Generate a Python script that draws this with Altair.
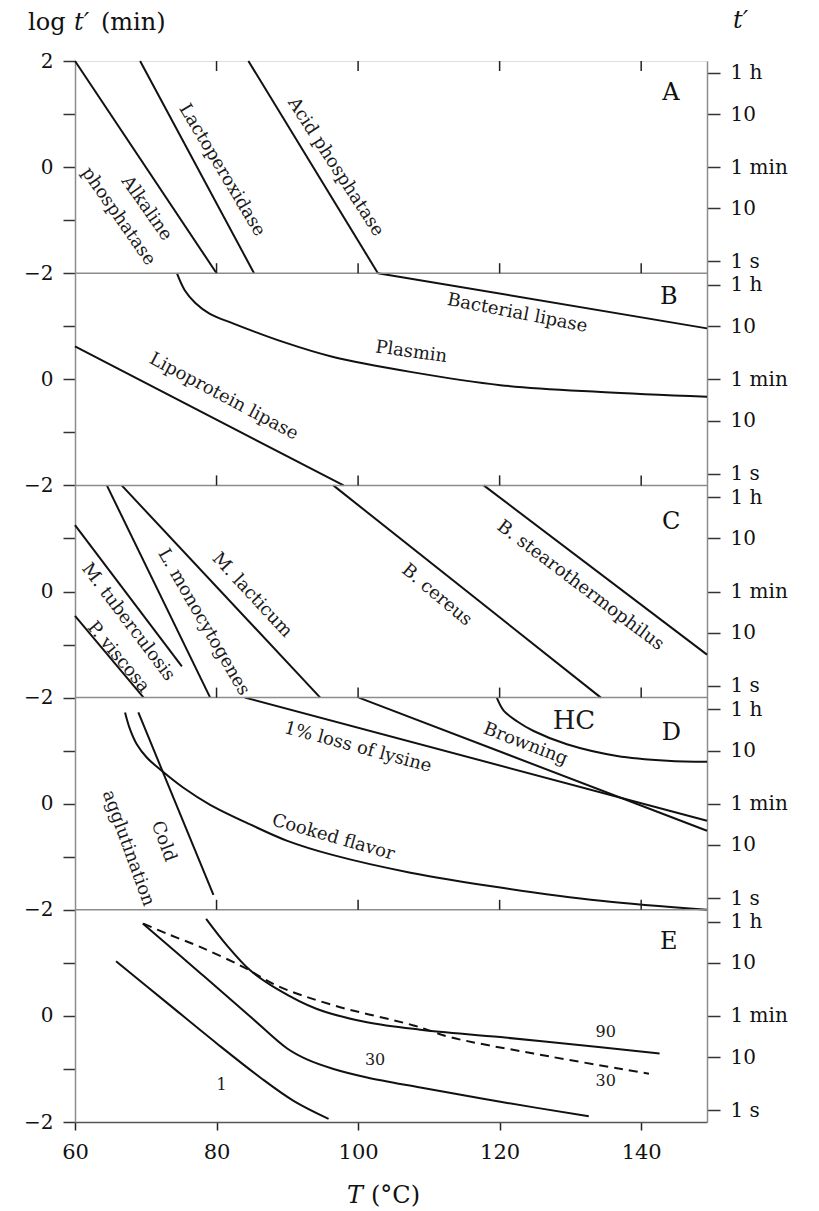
import math
import altair as alt
import pandas as pd

# ---------------- data ----------------
PANEL_LETTERS = ["A", "B", "C", "D", "E"]
PANEL_SPAN = 4.0                      # each panel: log t' from -2 to 2
T_DOMAIN = [60, 149.3]
X_TICKS = [60, 80, 100, 120, 140]
INNER_TICKS = [80, 100, 120, 140]
RIGHT_TICK_SECONDS = [3600, 600, 60, 10, 1]
RIGHT_TICK_LABELS = ["1 h", "10", "1 min", "10", "1 s"]

# Panel A (index 0)
alk_T = [60.0, 80.0];   alk_L = [2.0, -2.0]
lacto_T = [69.2, 85.3]; lacto_L = [2.0, -2.0]
acid_T = [84.5, 102.8]; acid_L = [2.0, -2.0]
# Panel B (index 1)
baclip_T = [102.8, 149.3]; baclip_L = [2.0, 0.96]
plasmin_T = [74.4, 75.5, 77.0, 79.0, 82.4, 89.5, 96.5, 107.4, 120.1, 134.3, 149.3]
plasmin_L = [2.0, 1.68, 1.44, 1.24, 1.05, 0.70, 0.42, 0.14, -0.11, -0.24, -0.33]
lpl_T = [60.0, 97.95]; lpl_L = [0.62, -2.0]
# Panel C (index 2)
pvisc_T = [60.0, 69.7];   pvisc_L = [-0.46, -2.0]
mtb_T = [60.0, 75.1];     mtb_L = [1.25, -1.41]
lmono_T = [64.5, 79.1];   lmono_L = [2.0, -2.0]
mlact_T = [66.6, 94.65];  mlact_L = [2.0, -2.0]
bcer_T = [96.5, 134.3];   bcer_L = [2.0, -2.0]
bstear_T = [117.75, 149.3]; bstear_L = [2.0, -1.19]
# Panel D (index 3)
cold_T = [68.95, 79.56]; cold_L = [1.72, -1.72]
cooked_T = [67.07, 67.78, 68.73, 70.14, 72.26, 75.32, 79.09, 84.75, 90.0, 96.5, 107.4, 120.1, 134.3, 149.3]
cooked_L = [1.72, 1.40, 1.12, 0.87, 0.62, 0.30, -0.02, -0.39, -0.70, -0.97, -1.30, -1.58, -1.83, -2.0]
lysine_T = [84.0, 149.3];  lysine_L = [2.0, -0.32]
brown_T = [100.1, 149.3];  brown_L = [2.0, -0.51]
hc_T = [119.6, 120.6, 122.5, 124.8, 129.5, 136.6, 143.7, 149.3]
hc_L = [2.0, 1.75, 1.55, 1.37, 1.12, 0.90, 0.81, 0.79]
# Panel E (index 4)
e1_T = [65.8, 72.96, 80.04, 86.17, 90.88, 95.83]
e1_L = [1.03, 0.25, -0.52, -1.16, -1.60, -1.94]
e30_T = [69.57, 77.68, 84.75, 89.93, 92.77, 96.53, 101.26, 108.8, 120.1, 132.6]
e30_L = [1.74, 0.81, -0.01, -0.61, -0.82, -1.00, -1.16, -1.35, -1.62, -1.89]
e90_T = [78.53, 81.46, 84.75, 88.53, 94.19, 101.26, 108.8, 120.1, 134.3, 142.6]
e90_L = [1.83, 1.33, 0.86, 0.51, 0.13, -0.12, -0.26, -0.40, -0.59, -0.71]
e30d_T = [69.66, 72.97, 77.68, 83.8, 88.53, 96.53, 107.85, 113.0, 124.8, 141.1]
e30d_L = [1.74, 1.55, 1.30, 0.92, 0.57, 0.20, -0.18, -0.40, -0.71, -1.09]

CURVES = [
    ("alk", 0, False, alk_T, alk_L),
    ("lacto", 0, False, lacto_T, lacto_L),
    ("acid", 0, False, acid_T, acid_L),
    ("baclip", 1, False, baclip_T, baclip_L),
    ("plasmin", 1, False, plasmin_T, plasmin_L),
    ("lpl", 1, False, lpl_T, lpl_L),
    ("pvisc", 2, False, pvisc_T, pvisc_L),
    ("mtb", 2, False, mtb_T, mtb_L),
    ("lmono", 2, False, lmono_T, lmono_L),
    ("mlact", 2, False, mlact_T, mlact_L),
    ("bcer", 2, False, bcer_T, bcer_L),
    ("bstear", 2, False, bstear_T, bstear_L),
    ("cold", 3, False, cold_T, cold_L),
    ("cooked", 3, False, cooked_T, cooked_L),
    ("lysine", 3, False, lysine_T, lysine_L),
    ("brown", 3, False, brown_T, brown_L),
    ("hc", 3, False, hc_T, hc_L),
    ("e1", 4, False, e1_T, e1_L),
    ("e30", 4, False, e30_T, e30_L),
    ("e90", 4, False, e90_T, e90_L),
    ("e30d", 4, True, e30d_T, e30d_L),
]

# label text, T, panel, local log t', angle, font size
LABEL_TEXT = ["Alkaline", "phosphatase", "Lactoperoxidase", "Acid phosphatase",
              "Bacterial lipase", "Plasmin", "Lipoprotein lipase",
              "P. viscosa", "M. tuberculosis", "L. monocytogenes", "M. lacticum",
              "B. cereus", "B. stearothermophilus",
              "1% loss of lysine", "Browning", "Cooked flavor", "Cold",
              "agglutination", "HC",
              "1", "30", "90", "30"]
LABEL_T = [70.1, 66.1, 80.75, 96.8,
           122.5, 107.5, 81.0,
           66.1, 67.5, 78.15, 85.0, 111.1, 131.4,
           99.96, 123.65, 96.5, 72.5, 67.5, 130.5,
           80.7, 102.4, 135.0, 135.0]
LABEL_PANEL = [0, 0, 0, 0, 1, 1, 1, 2, 2, 2, 2, 2, 2, 3, 3, 3, 3, 3, 3, 4, 4, 4, 4]
LABEL_L = [-0.78, -0.93, -0.06, 0.0,
           1.24, 0.51, -0.33,
           -1.24, -0.58, -0.58, -0.07, -0.07, 0.11,
           1.06, 1.12, -0.64, -0.71, -0.84, 1.56,
           -1.31, -0.83, -0.31, -1.22]
LABEL_ANGLE = [55, 55, 59, 57, 11, 8, 28, 50, 53, 60, 47, 40, 37,
               15, 21, 16, 70, 70, 0, 0, 0, 0, 0]
LABEL_SIZE = [18] * 18 + [26] + [16, 16, 16, 16]

LETTER_T = [144.2, 143.9, 144.25, 144.25, 143.9]
LETTER_L = [1.39, 1.55, 1.31, 1.34, 1.39]

# ---------------- tables ----------------
rows = []
for name, p, dashed, Ts, Ls in CURVES:
    for i, (t, l) in enumerate(zip(Ts, Ls)):
        rows.append({"curve": name, "T": t, "Y": l - PANEL_SPAN * p, "order": i, "dashed": dashed})
curves_df = pd.DataFrame(rows)
solid_df = curves_df[~curves_df.dashed]
dashed_df = curves_df[curves_df.dashed]

labels_df = pd.DataFrame({
    "text": LABEL_TEXT, "T": LABEL_T,
    "Y": [l - PANEL_SPAN * p for l, p in zip(LABEL_L, LABEL_PANEL)],
    "angle": LABEL_ANGLE, "size": LABEL_SIZE,
})
letters_df = pd.DataFrame({
    "text": PANEL_LETTERS, "T": LETTER_T,
    "Y": [l - PANEL_SPAN * i for i, l in enumerate(LETTER_L)],
})

n = len(PANEL_LETTERS)
Y_TOP = 2.0
Y_BOTTOM = 2.0 - PANEL_SPAN * n
boundaries = [Y_TOP - PANEL_SPAN * k for k in range(1, n)]
sep_df = pd.DataFrame({"Y": boundaries})

W, H = 632, 1061
tick_len = 10 * (Y_TOP - Y_BOTTOM) / H
tick_rows = []
for t in INNER_TICKS:
    tick_rows.append({"T": t, "y1": Y_TOP, "y2": Y_TOP - tick_len})
    for b in boundaries:
        tick_rows.append({"T": t, "y1": b, "y2": b + tick_len})
ticks_df = pd.DataFrame(tick_rows)

right_local = [math.log10(s / 60.0) for s in RIGHT_TICK_SECONDS]
right_vals = [v - PANEL_SPAN * k for k in range(n) for v in right_local]
loc = "(datum.value - 4*round(datum.value/4))"
expr = "'" + RIGHT_TICK_LABELS[-1] + "'"
for i in range(len(right_local) - 2, -1, -1):
    thr = (right_local[i] + right_local[i + 1]) / 2
    expr = f"{loc} > {thr:.3f} ? '{RIGHT_TICK_LABELS[i]}' : ({expr})"

left_vals = list(range(int(Y_BOTTOM), int(Y_TOP) + 1))
left_expr = ("datum.value == 2 ? '2' : (datum.value % 4 == 0 ? '0' : "
             "(abs(datum.value % 4) == 2 ? '\u22122' : ''))")

FONT = "DejaVu Serif"
xs = alt.Scale(domain=T_DOMAIN, nice=False, zero=False)
ys = alt.Scale(domain=[Y_BOTTOM, Y_TOP], nice=False, zero=False)
GRAY = "#8c8c8c"
SMOOTH = "catmull-rom"

x_axis = alt.Axis(orient="bottom", values=X_TICKS, tickSize=8, tickColor="#222", tickWidth=1.5,
                  domainColor="#555", domainWidth=1.5, labelFont=FONT, labelFontSize=21,
                  labelColor="#111", labelPadding=11, labelFlush=False, title=None, grid=False)
left_axis = alt.Axis(orient="left", values=left_vals, labelExpr=left_expr, tickSize=12,
                     tickColor="#333", tickWidth=1.5, domainColor=GRAY, domainWidth=1.5,
                     labelFont=FONT, labelFontSize=20, labelColor="#111", labelPadding=10,
                     labelFlush=False, title=None, grid=False)
right_axis = alt.Axis(orient="right", values=right_vals, labelExpr=expr, tickSize=13,
                      tickColor="#333", tickWidth=1.5, domainColor=GRAY, domainWidth=1.5,
                      labelFont=FONT, labelFontSize=20, labelColor="#111", labelPadding=10,
                      labelFlush=False, title=None, grid=False)

solid = alt.Chart(solid_df).mark_line(color="#111", strokeWidth=2, interpolate=SMOOTH).encode(
    x=alt.X("T:Q", scale=xs, axis=x_axis),
    y=alt.Y("Y:Q", scale=ys, axis=left_axis),
    detail="curve:N", order="order:Q")

seps = alt.Chart(sep_df).mark_rule(color=GRAY, strokeWidth=1.5).encode(
    y=alt.Y("Y:Q", scale=ys, axis=right_axis))

dashed = alt.Chart(dashed_df).mark_line(color="#111", strokeWidth=2, strokeDash=[9, 6],
                                        interpolate=SMOOTH).encode(
    x=alt.X("T:Q", scale=xs, axis=None),
    y=alt.Y("Y:Q", scale=ys, axis=None),
    order="order:Q")

ticks = alt.Chart(ticks_df).mark_rule(color="#222", strokeWidth=1.5).encode(
    x=alt.X("T:Q", scale=xs, axis=None),
    y=alt.Y("y1:Q", scale=ys, axis=None), y2="y2:Q")

labels = alt.Chart(labels_df).mark_text(font=FONT, color="#1a1a1a", align="center",
                                        baseline="middle").encode(
    x=alt.X("T:Q", scale=xs, axis=None),
    y=alt.Y("Y:Q", scale=ys, axis=None),
    text="text:N",
    angle=alt.Angle("angle:Q", scale=None),
    size=alt.Size("size:Q", scale=None))

letters = alt.Chart(letters_df).mark_text(font=FONT, color="#111", fontSize=24,
                                          align="center", baseline="middle").encode(
    x=alt.X("T:Q", scale=xs, axis=None),
    y=alt.Y("Y:Q", scale=ys, axis=None),
    text="text:N")


def title_text(txt, x, y, italic=False, align="left"):
    return alt.Chart(pd.DataFrame({"label": [txt]})).mark_text(
        font=FONT, fontSize=24, color="#111", align=align, baseline="alphabetic",
        fontStyle="italic" if italic else "normal").encode(
        x=alt.value(x), y=alt.value(y), text="label:N")


titles = [
    title_text("log", -47, -31),
    title_text("t\u2032", -1, -31, italic=True),
    title_text("(min)", 26, -31),
    title_text("t\u2032", 658, -33, italic=True),
    title_text("T", 272, 1142, italic=True),
    title_text("(°C)", 296, 1142),
]

chart = alt.layer(solid, seps, dashed, ticks, labels, letters, *titles).resolve_axis(
    x="independent", y="independent"
).properties(
    width=W, height=H,
    autosize=alt.AutoSizeParams(type="none"),
    padding={"left": 75, "top": 61, "right": 112, "bottom": 89},
).configure_view(stroke=GRAY, strokeWidth=1.5).configure(background="white")

chart.save("out.html", embed_options={"renderer": "svg", "actions": False})
